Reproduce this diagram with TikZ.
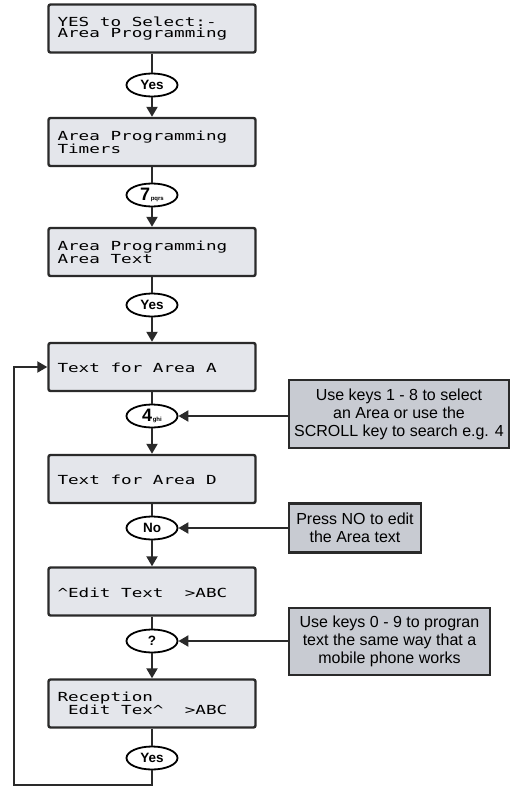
\documentclass[tikz,border=0pt]{standalone}
\usepackage{fontspec}
\setmainfont{Liberation Sans}
\newfontfamily\lcd[FakeStretch=1.41]{DejaVu Sans Mono}
\usetikzlibrary{shapes.geometric,arrows.meta}
\definecolor{lcdfill}{HTML}{E4E6EB}
\definecolor{notefill}{HTML}{C8CBD2}
\definecolor{edge}{HTML}{2A2A2A}
\newcommand{\lcdfont}{\lcd\fontsize{12.5}{11.5}\selectfont}
% one LCD character cell of blank space
\newcommand{\lsp}{\kern\fontcharwd\font`M\relax}
\tikzset{
  lcdbox/.style={draw=edge, line width=2.4pt, fill=lcdfill, rounded corners=2pt,
    minimum width=207pt, minimum height=48pt, text width=189pt, inner sep=9pt,
    align=left, font=\lcdfont},
  keyoval/.style={ellipse, draw=black, line width=1.8pt, fill=white,
    minimum width=51pt, minimum height=23pt, inner sep=0pt,
    font=\bfseries\fontsize{13.5}{14}\selectfont},
  notebox/.style={draw=edge, line width=2.2pt, fill=notefill, align=center,
    inner sep=2pt, font=\fontsize{16}{18}\selectfont},
  conn/.style={draw=edge, line width=2pt},
  arr/.style={conn, -{Triangle[length=10pt,width=11pt]}},
}
\newcommand{\keysub}[2]{{\fontsize{18}{18}\selectfont #1}\kern0.5pt{\fontsize{6}{6}\selectfont #2}}
\begin{document}
\begin{tikzpicture}[x=1pt,y=-1pt]
\useasboundingbox (0,0) rectangle (513,787);
% LCD boxes
\node[lcdbox] (b1) at (152,28.5) {YES\lsp to\lsp Select:-\\Area\lsp Programming};
\node[lcdbox] (b2) at (152,142) {Area\lsp Programming\\Timers};
\node[lcdbox] (b3) at (152,252) {Area\lsp Programming\\Area\lsp Text};
\node[lcdbox] (b4) at (152,367) {\mbox{}\\Text\lsp for\lsp Area\lsp A};
\node[lcdbox] (b5) at (152,479) {\mbox{}\\Text\lsp for\lsp Area\lsp D};
\node[lcdbox] (b6) at (152,591.5) {\mbox{}\\\textasciicircum Edit\lsp Text\lsp\lsp >ABC};
\node[lcdbox] (b7) at (152,703.5) {Reception\\\mbox{}\lsp Edit\lsp Tex\textasciicircum\lsp\lsp >ABC};
% key ovals
\node[keyoval] (o1) at (152,85) {Yes};
\node[keyoval] (o2) at (152,195) {\keysub{7}{pqrs}};
\node[keyoval] (o3) at (152,305) {Yes};
\node[keyoval] (o4) at (152,416) {\keysub{4}{ghi}};
\node[keyoval] (o5) at (152,528) {No};
\node[keyoval] (o6) at (152,641) {?};
\node[keyoval] (o7) at (152,758) {Yes};
% notes
\node[notebox, minimum width=220pt, minimum height=68pt] (n1) at (399,414) {Use keys 1 - 8 to select\\an Area or use the\\SCROLL key to search e.g. 4};
\node[notebox, minimum width=132pt, minimum height=49pt] (n2) at (355,528) {Press NO to edit\\the Area text};
\node[notebox, minimum width=201pt, minimum height=67pt] (n3) at (389.5,641.5) {Use keys 0 - 9 to progran\\text the same way that a\\mobile phone works};
% connectors
\draw[conn] (b1) -- (o1);
\draw[arr] (o1) -- (b2);
\draw[conn] (b2) -- (o2);
\draw[arr] (o2) -- (b3);
\draw[conn] (b3) -- (o3);
\draw[arr] (o3) -- (b4);
\draw[conn] (b4) -- (o4);
\draw[arr] (o4) -- (b5);
\draw[conn] (b5) -- (o5);
\draw[arr] (o5) -- (b6);
\draw[conn] (b6) -- (o6);
\draw[arr] (o6) -- (b7);
\draw[conn] (b7) -- (o7);
\draw[arr] (n1.west |- o4.east) -- (o4.east);
\draw[arr] (n2.west |- o5.east) -- (o5.east);
\draw[arr] (n3.west |- o6.east) -- (o6.east);
\coordinate (lb) at (14,785);
\draw[arr] (o7.south) |- (lb) |- (b4.west);
\end{tikzpicture}
\end{document}
